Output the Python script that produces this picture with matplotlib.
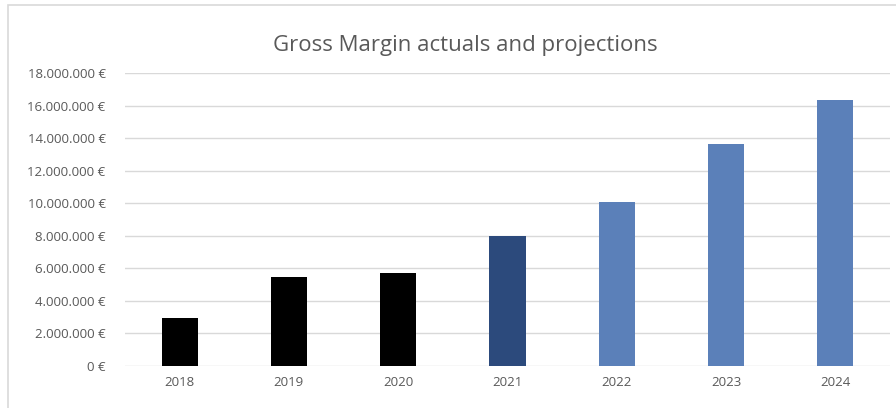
import matplotlib
matplotlib.use("Agg")
import matplotlib.pyplot as plt
from matplotlib.patches import Rectangle
from matplotlib.ticker import FuncFormatter, MultipleLocator

years = ["2018", "2019", "2020", "2021", "2022", "2023", "2024"]
margin = [2950000, 5470000, 5710000, 7990000, 10050000, 13640000, 16320000]
colors = ["#000000", "#000000", "#000000", "#2c4a7c", "#5b80b9", "#5b80b9", "#5b80b9"]

plt.rcParams['font.family'] = ['Open Sans', 'DejaVu Sans']

fig = plt.figure(figsize=(8.96, 4.08), dpi=100)
fig.patches.append(Rectangle((8/896, -0.1), 1.2, 1 - 5/408 + 0.1, transform=fig.transFigure,
                             fill=False, edgecolor="#d9d9d9", linewidth=1.2))
ax = fig.add_axes([125/896, 1 - 366/408, 765/896, (366 - 73)/408])

ax.bar(range(len(years)), margin, width=0.33, color=colors, zorder=3)

ax.set_xlim(-0.5, len(years) - 0.5)
ax.set_ylim(0, 18000000)
ax.yaxis.set_major_locator(MultipleLocator(2000000))
ax.yaxis.set_major_formatter(FuncFormatter(lambda v, p: f"{int(v):,} €".replace(",", ".")))
ax.set_xticks(range(len(years)))
ax.set_xticklabels(years)

ax.grid(axis="y", color="#d9d9d9", linewidth=1.0, zorder=0)
for s in ax.spines.values():
    s.set_visible(False)
ax.tick_params(axis="both", length=0, labelsize=9.5, labelcolor="#595959")
ax.tick_params(axis="x", pad=7)
ax.tick_params(axis="y", pad=14)

fig.text(465/896, 1 - 46/408, "Gross Margin actuals and projections", ha="center", va="center",
         fontsize=16, color="#595959")

fig.savefig("out.png", dpi=100)
